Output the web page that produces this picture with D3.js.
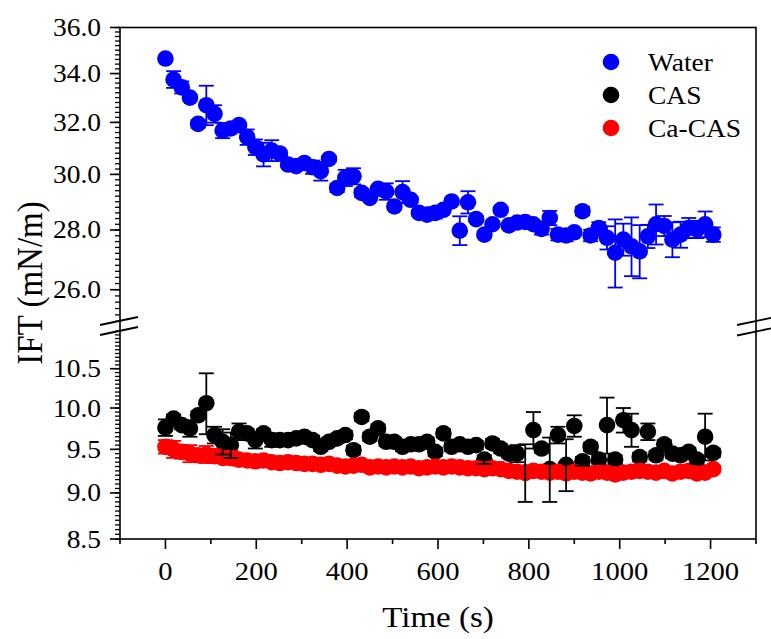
<!DOCTYPE html>
<html><head><meta charset="utf-8">
<script src="https://cdn.jsdelivr.net/npm/d3@7"></script>
<style>html,body{margin:0;padding:0;background:#fff;} svg{display:block;}</style>
</head><body>
<svg id="chart" width="771" height="639"></svg>
<script>
const times = [0,18,36,54,72,90,108,126,144,162,180,198,216,234,252,270,288,306,324,342,360,378,396,414,432,450,468,486,504,522,540,558,576,594,612,630,648,666,684,702,720,738,756,774,792,810,828,846,864,882,900,918,936,954,972,990,1008,1026,1044,1062,1080,1098,1116,1134,1152,1170,1188,1206];
const water = [34.64,33.75,33.42,33.00,31.94,32.69,32.34,31.68,31.76,31.89,31.42,31.03,30.75,30.90,30.79,30.37,30.31,30.43,30.27,30.12,30.58,29.50,29.87,29.93,29.32,29.14,29.47,29.37,28.83,29.35,29.07,28.60,28.54,28.60,28.71,29.01,27.98,28.98,28.38,27.84,28.20,28.71,28.16,28.26,28.28,28.20,28.04,28.42,27.84,27.81,27.92,28.66,27.81,28.07,27.73,27.22,27.67,27.44,27.27,27.78,28.20,28.14,27.67,27.84,28.07,28.02,28.20,27.84];
const waterErr = [0.05,0.35,0.25,0.1,0.15,0.8,0.35,0.3,0.1,0.1,0.3,0.3,0.45,0.4,0.1,0.1,0.1,0.1,0.25,0.35,0.1,0.15,0.3,0.3,0.15,0.1,0.1,0.3,0.1,0.4,0.1,0.1,0.15,0.2,0.1,0.1,0.5,0.4,0.1,0.1,0.1,0.1,0.1,0.15,0.15,0.1,0.2,0.25,0.2,0.2,0.1,0.15,0.2,0.2,0.4,1.15,0.55,1.0,0.9,0.4,0.7,0.35,0.6,0.45,0.35,0.3,0.45,0.25];
const cas = [9.76,9.87,9.79,9.75,9.91,10.06,9.67,9.59,9.55,9.71,9.69,9.61,9.69,9.61,9.61,9.61,9.63,9.65,9.61,9.53,9.59,9.63,9.67,9.49,9.89,9.65,9.75,9.59,9.59,9.53,9.56,9.56,9.59,9.47,9.69,9.53,9.56,9.53,9.55,9.38,9.57,9.51,9.45,9.45,9.23,9.73,9.51,9.27,9.67,9.32,9.78,9.36,9.53,9.38,9.79,9.38,9.85,9.73,9.41,9.71,9.43,9.56,9.45,9.43,9.47,9.38,9.65,9.46];
const casErr = [0.1,0.05,0.05,0.1,0.05,0.38,0.1,0.15,0.15,0.1,0.05,0.1,0.05,0.08,0.05,0.05,0.05,0.05,0.05,0.05,0.05,0.05,0.05,0.05,0.05,0.05,0.05,0.05,0.05,0.05,0.05,0.05,0.05,0.05,0.05,0.05,0.05,0.05,0.05,0.05,0.05,0.05,0.05,0.1,0.33,0.22,0.05,0.37,0.1,0.3,0.13,0.05,0.05,0.05,0.34,0.05,0.15,0.2,0.05,0.1,0.05,0.05,0.05,0.05,0.05,0.05,0.28,0.05];
const caCas = [9.53,9.50,9.47,9.45,9.43,9.44,9.42,9.40,9.40,9.38,9.37,9.36,9.37,9.35,9.34,9.35,9.34,9.33,9.33,9.32,9.33,9.31,9.30,9.31,9.32,9.29,9.30,9.29,9.30,9.29,9.30,9.28,9.29,9.30,9.29,9.30,9.29,9.28,9.28,9.27,9.28,9.27,9.25,9.24,9.23,9.25,9.24,9.23,9.24,9.22,9.24,9.23,9.22,9.24,9.23,9.21,9.23,9.24,9.25,9.24,9.23,9.25,9.22,9.24,9.25,9.22,9.23,9.27];
const caCasErr = [0.08,0.1,0.08,0.1,0.07,0.1,0.08,0.06,0.08,0.07,0.06,0.07,0.06,0.05,0.06,0.05,0.05,0.05,0.05,0.06,0.05,0.05,0.04,0.05,0.04,0.04,0.04,0.04,0.04,0.04,0.04,0.04,0.04,0.04,0.04,0.04,0.04,0.04,0.04,0.04,0.04,0.04,0.04,0.04,0.04,0.04,0.04,0.04,0.04,0.04,0.04,0.04,0.04,0.04,0.04,0.04,0.04,0.04,0.04,0.04,0.04,0.04,0.04,0.04,0.04,0.04,0.04,0.04];
const seriesNames = ["Water","CAS","Ca-CAS"];
const seriesColors = ["#0000ff","#000000","#ff0000"];
const xTickValues = [0,200,400,600,800,1000,1200];
const yTopTickValues = [26,28,30,32,34,36];
const yBotTickValues = [8.5,9.0,9.5,10.0,10.5];

const svg = d3.select("#chart");
const L = 120, R = 756, T = 27.5, B = 539;
const x = d3.scaleLinear().domain([-100,1300]).range([L,R]);
const yTop = d3.scaleLog().domain([25,36]).range([321.3,T]);
const yBot = d3.scaleLog().domain([8.5,11]).range([B,331.2]);
const yOf = v => v >= 20 ? yTop(v) : yBot(v);
const SX = 1.1;
const FONT = "Liberation Serif";
function txt(parent){ return parent.append("text").style("font-family", FONT).attr("fill","#000"); }

svg.append("rect").attr("width",771).attr("height",639).attr("fill","#fff");

const g = svg.append("g");
g.append("rect").attr("x",L).attr("y",T).attr("width",R-L).attr("height",B-T)
  .attr("fill","none").attr("stroke","#000").attr("stroke-width",1.6);

// y ticks
const yMinorTop = d3.range(250,361,2).map(d=>d/10);
const yMinorBot = d3.range(170,221,1).map(d=>d/20);
const tickG = g.append("g").attr("stroke","#000").attr("stroke-width",1.3);
yMinorTop.forEach(v=>tickG.append("line").attr("x1",L-5).attr("x2",L).attr("y1",yTop(v)).attr("y2",yTop(v)));
yMinorBot.forEach(v=>tickG.append("line").attr("x1",L-5).attr("x2",L).attr("y1",yBot(v)).attr("y2",yBot(v)));
yTopTickValues.forEach(v=>tickG.append("line").attr("x1",L-10).attr("x2",L).attr("y1",yTop(v)).attr("y2",yTop(v)).attr("stroke-width",1.6));
yBotTickValues.forEach(v=>tickG.append("line").attr("x1",L-10).attr("x2",L).attr("y1",yBot(v)).attr("y2",yBot(v)).attr("stroke-width",1.6));
// x ticks
d3.range(-100,1301,200).forEach(v=>tickG.append("line").attr("x1",x(v)).attr("x2",x(v)).attr("y1",B).attr("y2",B+5).attr("stroke-width",1.6));
xTickValues.forEach(v=>tickG.append("line").attr("x1",x(v)).attr("x2",x(v)).attr("y1",B).attr("y2",B+10).attr("stroke-width",1.6));

// tick labels
const lab = g.append("g");
yTopTickValues.forEach(v=>txt(lab).attr("transform",`translate(101,${yTop(v)}) scale(${SX},1)`)
  .attr("text-anchor","end").attr("dy","0.34em").style("font-size","25px").text(v.toFixed(1)));
yBotTickValues.forEach(v=>txt(lab).attr("transform",`translate(101,${yBot(v)}) scale(${SX},1)`)
  .attr("text-anchor","end").attr("dy","0.34em").style("font-size","25px").text(v.toFixed(1)));
xTickValues.forEach(v=>txt(lab).attr("transform",`translate(${x(v)},580) scale(${SX},1)`)
  .attr("text-anchor","middle").style("font-size","26px").text(v));

// axis titles
txt(lab).attr("transform",`translate(438,627) scale(${SX},1)`).attr("text-anchor","middle")
  .style("font-size","30px").text("Time (s)");
txt(lab).attr("transform",`translate(42,283) scale(${SX},1) rotate(-90)`).attr("text-anchor","middle")
  .style("font-size","33px").text("IFT (mN/m)");

// break marks
const brk = g.append("g").attr("stroke","#000").attr("stroke-width",1.8);
[[100,325,138,317],[100,335,138,327],[737,325,775,317],[737,335.5,775,327.5]].forEach(s=>
  brk.append("line").attr("x1",s[0]).attr("y1",s[1]).attr("x2",s[2]).attr("y2",s[3]));

const plot = svg.append("g");
function errorBars(vals, errs, color){
  const eg = plot.append("g").attr("stroke",color).attr("stroke-width",1.8);
  vals.forEach((v,i)=>{
    const cx = x(times[i]), y1 = yOf(v+errs[i]), y2 = yOf(v-errs[i]);
    eg.append("line").attr("x1",cx).attr("x2",cx).attr("y1",y1).attr("y2",y2);
    eg.append("line").attr("x1",cx-7.5).attr("x2",cx+7.5).attr("y1",y1).attr("y2",y1);
    eg.append("line").attr("x1",cx-7.5).attr("x2",cx+7.5).attr("y1",y2).attr("y2",y2);
  });
}
function points(vals, color){
  plot.append("g").selectAll("circle").data(vals).join("circle")
    .attr("cx",(d,i)=>x(times[i])).attr("cy",d=>yOf(d)).attr("r",8.3).attr("fill",color);
}
errorBars(water, waterErr, seriesColors[0]);
points(water, seriesColors[0]);
points(cas, seriesColors[1]);
errorBars(caCas, caCasErr, seriesColors[2]);
points(caCas, seriesColors[2]);
errorBars(cas, casErr, seriesColors[1]);

const leg = svg.append("g");
seriesNames.forEach((n,i)=>{
  const ly = 62 + i*33;
  leg.append("circle").attr("cx",611).attr("cy",ly).attr("r",8.3).attr("fill",seriesColors[i]);
  txt(leg).attr("transform",`translate(648,${ly}) scale(${SX},1)`).attr("dy","0.35em")
    .style("font-size","25px").text(n);
});
</script>
</body></html>
